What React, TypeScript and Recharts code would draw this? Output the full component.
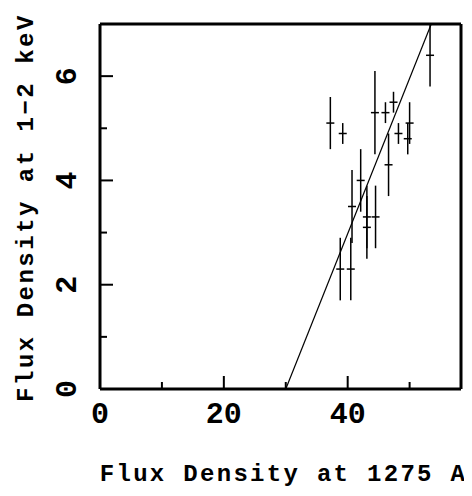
import React from 'react';
import { ScatterChart, Scatter, XAxis, YAxis, ErrorBar, ReferenceLine } from 'recharts';

const FONT = '"Liberation Mono", "DejaVu Sans Mono", monospace';

const xVals = [37.2, 39.2, 44.4, 46.1, 47.4, 48.2, 50.0, 49.7, 46.6, 42.1, 40.7, 43.1, 43.1, 44.5, 38.8, 40.5, 53.3];
const yVals = [5.1, 4.9, 5.3, 5.3, 5.5, 4.9, 5.1, 4.8, 4.3, 4.0, 3.5, 3.3, 3.1, 3.3, 2.3, 2.3, 6.4];
const yErrs = [0.5, 0.2, 0.8, 0.2, 0.2, 0.2, 0.4, 0.3, 0.6, 0.6, 0.7, 0.6, 0.6, 0.6, 0.6, 0.6, 0.6];

const fitLine = [
  { x: 30, y: 0 },
  { x: 53.5, y: 7 },
];

const xTicks = [0, 10, 20, 30, 40, 50];
const xLabelTicks = [0, 20, 40];
const yTicks = [0, 1, 2, 3, 4, 5, 6];
const yLabelTicks = [0, 2, 4, 6];
const xDomain = [0, 58.3];
const yDomain = [0, 7];

const xTitle = 'Flux Density at 1275 A';
const yTitle = 'Flux Density at 1\u22122 keV';

const data = xVals.map((x, i) => ({ x, y: yVals[i], err: yErrs[i] }));

const MAJOR = 13;
const MINOR = 7;

const BottomTick = (props: any) => {
  const { x, y, payload } = props;
  const v = payload.value;
  const major = v % 20 === 0;
  return (
    <g>
      {v !== 0 && (
        <line x1={x} x2={x} y1={y} y2={y - (major ? MAJOR : MINOR)} stroke="#000" strokeWidth={2} />
      )}
      {xLabelTicks.includes(v) && (
        <text x={x} y={y + 26} textAnchor="middle" dominantBaseline="central" fontFamily={FONT} fontWeight="bold" fontSize={30} fill="#000">
          {v}
        </text>
      )}
    </g>
  );
};

const TopTick = (props: any) => {
  const { x, y, payload } = props;
  const v = payload.value;
  if (v === 0) return <g />;
  const major = v % 20 === 0;
  return <line x1={x} x2={x} y1={y} y2={y + (major ? MAJOR : MINOR)} stroke="#000" strokeWidth={2} />;
};

const LeftTick = (props: any) => {
  const { x, y, payload } = props;
  const v = payload.value;
  const major = v % 2 === 0;
  const lx = x - 32;
  return (
    <g>
      {v !== 0 && (
        <line x1={x} x2={x + (major ? MAJOR : MINOR)} y1={y} y2={y} stroke="#000" strokeWidth={2} />
      )}
      {yLabelTicks.includes(v) && (
        <text x={lx} y={y} transform={`rotate(-90, ${lx}, ${y})`} textAnchor="middle" dominantBaseline="central" fontFamily={FONT} fontWeight="bold" fontSize={30} fill="#000">
          {v}
        </text>
      )}
    </g>
  );
};

const RightTick = (props: any) => {
  const { x, y, payload } = props;
  const v = payload.value;
  if (v === 0) return <g />;
  const major = v % 2 === 0;
  return <line x1={x} x2={x - (major ? MAJOR : MINOR)} y1={y} y2={y} stroke="#000" strokeWidth={2} />;
};

const XTitle = (props: any) => {
  const vb = props.viewBox || { x: 92, y: 381, width: 361 };
  const cx = vb.x + vb.width / 2 + 3;
  return (
    <text x={cx} y={vb.y + 92} textAnchor="middle" fontFamily={FONT} fontWeight="bold" fontSize={24} letterSpacing={2.3} fill="#000">
      {xTitle}
    </text>
  );
};

const YTitle = (props: any) => {
  const vb = props.viewBox || { x: 0, y: 16, height: 365 };
  const cx = 25;
  const cy = vb.y + vb.height / 2 + 1;
  return (
    <text x={cx} y={cy} transform={`rotate(-90, ${cx}, ${cy})`} textAnchor="middle" fontFamily={FONT} fontWeight="bold" fontSize={24} letterSpacing={2.5} fill="#000">
      {yTitle}
    </text>
  );
};

const Marker = (props: any) => {
  const { cx, cy } = props;
  if (cx == null || cy == null) return <g />;
  return <line x1={cx - 4} x2={cx + 4} y1={cy} y2={cy} stroke="#000" strokeWidth={1.5} />;
};

export default function App() {
  return (
    <div style={{ width: 464, height: 488, background: '#fff' }}>
      <ScatterChart width={464} height={488} margin={{ top: 0, right: 0, bottom: 0, left: 0 }}>
        <XAxis
          xAxisId="b"
          type="number"
          dataKey="x"
          orientation="bottom"
          domain={xDomain}
          ticks={xTicks}
          interval={0}
          height={107}
          tickSize={0}
          tickMargin={0}
          tickLine={false}
          axisLine={{ stroke: '#000', strokeWidth: 3 }}
          tick={<BottomTick />}
          label={<XTitle />}
        />
        <XAxis
          xAxisId="t"
          type="number"
          orientation="top"
          domain={xDomain}
          ticks={xTicks}
          interval={0}
          height={16}
          tickSize={0}
          tickMargin={0}
          tickLine={false}
          axisLine={{ stroke: '#000', strokeWidth: 3 }}
          tick={<TopTick />}
        />
        <YAxis
          yAxisId="l"
          type="number"
          dataKey="y"
          orientation="left"
          domain={yDomain}
          ticks={yTicks}
          interval={0}
          width={92}
          tickSize={0}
          tickMargin={0}
          tickLine={false}
          axisLine={{ stroke: '#000', strokeWidth: 3 }}
          tick={<LeftTick />}
          label={<YTitle />}
        />
        <YAxis
          yAxisId="r"
          type="number"
          orientation="right"
          domain={yDomain}
          ticks={yTicks}
          interval={0}
          width={11}
          tickSize={0}
          tickMargin={0}
          tickLine={false}
          axisLine={{ stroke: '#000', strokeWidth: 3 }}
          tick={<RightTick />}
        />
        <ReferenceLine
          xAxisId="b"
          yAxisId="l"
          segment={fitLine}
          stroke="#000"
          strokeWidth={1.2}
        />
        <Scatter xAxisId="b" yAxisId="l" data={data} shape={<Marker />} isAnimationActive={false}>
          <ErrorBar dataKey="err" direction="y" width={0} stroke="#000" strokeWidth={1.5} isAnimationActive={false} />
        </Scatter>
      </ScatterChart>
    </div>
  );
}
